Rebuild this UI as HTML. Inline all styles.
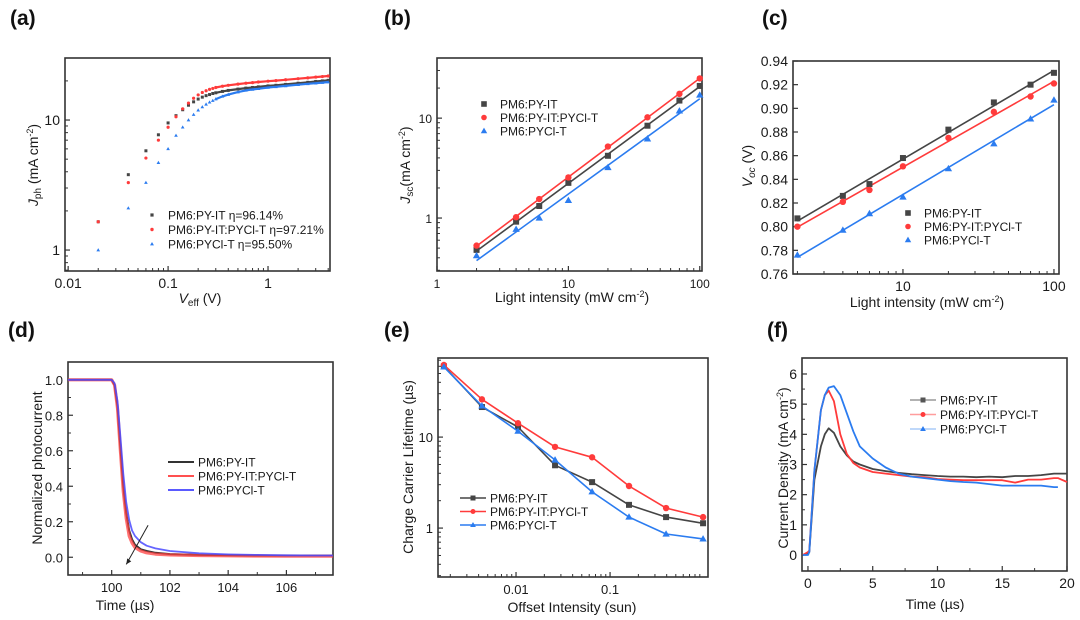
<!DOCTYPE html>
<html><head><meta charset="utf-8"><style>
html,body{margin:0;padding:0;background:#fff;width:1080px;height:620px;overflow:hidden}
svg{display:block;font-family:"Liberation Sans",sans-serif}
</style></head><body>
<svg id="fig" width="1080" height="620" viewBox="0 0 1080 620" xmlns="http://www.w3.org/2000/svg"></svg>
<script>
// ---------- DATA ----------
// (a)
const aV=[0.02,0.04,0.06,0.08,0.10,0.12,0.14,0.16,0.18,0.20,0.22,0.24,0.26,0.28,0.30,0.35,0.40,0.5,0.6,0.7,0.8,1.0,1.2,1.5,2,2.5,3,3.5,4];
const aBlack=[1.65,3.8,5.8,7.7,9.5,10.8,12.0,13.0,13.8,14.5,15.0,15.4,15.7,16.0,16.2,16.6,16.9,17.3,17.6,17.8,18.0,18.3,18.5,18.8,19.2,19.5,19.8,20.0,20.2];
const aRed=[1.65,3.3,5.1,7.0,8.8,10.6,12.2,13.5,14.7,15.6,16.3,16.8,17.2,17.5,17.8,18.2,18.5,18.9,19.2,19.4,19.6,19.9,20.1,20.4,20.8,21.1,21.4,21.6,21.8];
const aBlue=[1.0,2.1,3.3,4.7,6.0,7.6,8.8,10.0,11.0,11.9,12.6,13.2,13.7,14.1,14.5,15.2,15.7,16.4,16.9,17.2,17.4,17.8,18.0,18.3,18.7,19.0,19.2,19.4,19.6];
// (b)
const bI=[2,4,6,10,20,40,70,100];
const bBlack=[0.48,0.92,1.32,2.25,4.2,8.4,15,21];
const bRed=[0.53,1.02,1.55,2.55,5.2,10.2,17.5,25];
const bBlue=[0.42,0.77,1.0,1.5,3.2,6.2,11.8,17];
// (c)
const cI=[2,4,6,10,20,40,70,100];
const cBlack=[0.807,0.826,0.836,0.858,0.882,0.905,0.920,0.930];
const cRed=[0.800,0.821,0.831,0.851,0.875,0.897,0.910,0.921];
const cBlue=[0.776,0.797,0.811,0.825,0.849,0.870,0.891,0.907];
// (d)
const dT=[98.5,99,99.5,100,100.1,100.2,100.3,100.4,100.5,100.6,100.7,100.8,101,101.2,101.5,102,103,104,105,106,107,107.6];
const dBlack=[1,1,1,1,0.97,0.85,0.62,0.40,0.25,0.15,0.10,0.07,0.045,0.035,0.025,0.018,0.013,0.011,0.01,0.01,0.01,0.01];
const dRed=[1,1,1,1,0.97,0.84,0.60,0.37,0.22,0.12,0.08,0.055,0.035,0.025,0.018,0.013,0.01,0.008,0.007,0.006,0.006,0.006];
const dBlue=[1,1,1,1,0.98,0.88,0.68,0.47,0.31,0.21,0.15,0.12,0.085,0.065,0.05,0.035,0.022,0.016,0.013,0.011,0.01,0.01];
// (e)
const eX=[0.00171,0.00434,0.0105,0.026,0.0644,0.159,0.394,0.975];
const eBlack=[60,21.4,12.9,4.9,3.2,1.8,1.32,1.13];
const eRed=[62,26,14.2,7.8,6.0,2.9,1.66,1.32];
const eBlue=[59,22,11.6,5.6,2.5,1.32,0.86,0.76];
// (f)
const fT=[-0.4,0,0.1,0.5,1,1.3,1.6,2,2.5,3,3.5,4,5,6,7,8,9,10,11,12,13,14,15,16,17,18,19,19.3,20];
const fBlack=[0,0.05,0.1,2.5,3.6,4.0,4.2,4.05,3.6,3.3,3.1,3.0,2.85,2.78,2.72,2.68,2.65,2.62,2.6,2.6,2.58,2.6,2.58,2.62,2.62,2.65,2.7,2.7,2.7];
const fRed=[0,0.1,0.15,2.8,4.8,5.3,5.45,5.1,4.0,3.35,3.05,2.9,2.75,2.7,2.65,2.6,2.58,2.52,2.5,2.48,2.48,2.48,2.48,2.4,2.5,2.5,2.55,2.55,2.42];
const fBlue=[0,0,0.1,2.8,4.8,5.3,5.55,5.6,5.3,4.7,4.1,3.6,3.2,2.9,2.7,2.6,2.55,2.5,2.45,2.42,2.4,2.35,2.3,2.3,2.3,2.3,2.25,2.25,null];

const NS='http://www.w3.org/2000/svg';
const svg=document.getElementById('fig');
const BK='#454545',RD='#ff3b3b',BL='#2b7cf0';
function el(tag,attrs,parent){const e=document.createElementNS(NS,tag);for(const k in attrs)e.setAttribute(k,attrs[k]);(parent||svg).appendChild(e);return e;}
function txt(x,y,s,opts,parent){const t=el('text',Object.assign({x:x,y:y,'font-size':13,fill:'#1a1a1a'},opts||{}),parent);t.innerHTML=s;return t;}
function scale(type,d0,d1,p0,p1){
  if(type==='log'){const l0=Math.log10(d0),l1=Math.log10(d1);return v=>p0+(Math.log10(v)-l0)/(l1-l0)*(p1-p0);}
  return v=>p0+(v-d0)/(d1-d0)*(p1-p0);
}
function panel(cfg){
  const g=el('g',{});
  
  
  const [L,T,R,B]=cfg.frame;
  const sx=scale(cfg.xt,cfg.xd[0],cfg.xd[1],L,R);
  const sy=scale(cfg.yt,cfg.yd[0],cfg.yd[1],B,T);
  const ax=el('g',{},g);
  
  
  (cfg.xMinor||[]).forEach(v=>{const x=sx(v);el('line',{x1:x,x2:x,y1:B,y2:B-3,stroke:'#333','stroke-width':1},ax);});
  (cfg.yMinor||[]).forEach(v=>{const y=sy(v);el('line',{x1:L,x2:L+3,y1:y,y2:y,stroke:'#333','stroke-width':1},ax);});
  cfg.xTicks.forEach((v,i)=>{const x=sx(v);el('line',{x1:x,x2:x,y1:B,y2:B-5,stroke:'#333','stroke-width':1.2},ax);
    const t=txt(x,B+17,cfg.xLabels[i],{'text-anchor':'middle','font-size':cfg.fs||14},ax);
    });
  cfg.yTicks.forEach((v,i)=>{const y=sy(v);el('line',{x1:L,x2:L+5,y1:y,y2:y,stroke:'#333','stroke-width':1.2},ax);
    const t=txt(L-5,y+5,cfg.yLabels[i],{'text-anchor':'end','font-size':cfg.fs||14},ax);
    });
  const fr=el('rect',{x:L,y:T,width:R-L,height:B-T,fill:'none',stroke:'#333','stroke-width':1.6},g);
  
  return {g,sx,sy,L,T,R,B};
}
function marker(p,shape,x,y,col,s){
  let m;
  if(shape==='sq')m=el('rect',{x:x-s,y:y-s,width:2*s,height:2*s,fill:col},p);
  else if(shape==='ci')m=el('circle',{cx:x,cy:y,r:s,fill:col},p);
  else m=el('polygon',{points:`${x},${y-s*1.2} ${x-s*1.15},${y+s*0.8} ${x+s*1.15},${y+s*0.8}`,fill:col},p);
  return m;
}
function scatter(P,xs,ys,shape,col,s,name){
  const g=el('g',{},P.g);
  
  xs.forEach((x,i)=>{if(ys[i]==null)return;const m=marker(g,shape,P.sx(x),P.sy(ys[i]),col,s);
    });
}
function line(P,xs,ys,col,w,name,op){
  const pts=[];xs.forEach((x,i)=>{if(ys[i]!=null)pts.push(P.sx(x).toFixed(1)+','+P.sy(ys[i]).toFixed(1));});
  const l=el('polyline',{points:pts.join(' '),fill:'none',stroke:col,'stroke-width':w,'stroke-linejoin':'round','stroke-opacity':op||1},P.g);
  return l;
}
function fitLine(P,xs,ys,col,logY,name){
  const X=xs.map(Math.log10),Y=ys.map(v=>logY?Math.log10(v):v);
  const n=X.length,mx=X.reduce((a,b)=>a+b)/n,my=Y.reduce((a,b)=>a+b)/n;
  let num=0,den=0;X.forEach((x,i)=>{num+=(x-mx)*(Y[i]-my);den+=(x-mx)*(x-mx);});
  const k=num/den,b=my-k*mx;const f=x=>{const v=k*Math.log10(x)+b;return logY?Math.pow(10,v):v;};
  const x0=xs[0],x1=xs[n-1];
  const l=el('line',{x1:P.sx(x0),y1:P.sy(f(x0)),x2:P.sx(x1),y2:P.sy(f(x1)),stroke:col,'stroke-width':1.6},P.g);
  
}
function logMinor(lo,hi){const r=[];for(let e=lo;e<hi;e++)for(let m=2;m<=9;m++)r.push(m*Math.pow(10,e));return r;}
function legend(P,items,x,y0,dy,mode,fs,name){
  const g=el('g',{},P.g);
  
  items.forEach((it,i)=>{const y=y0+i*dy;
    const e=el('g',{},g);
    if(mode==='marker'){marker(e,it.s,x,y,it.c,it.sz||2.8);txt(x+16,y+4.5,it.t,{'font-size':fs},e);}
    else{el('line',{x1:x,x2:x+26,y1:y,y2:y,stroke:it.c,'stroke-width':it.w||2,'stroke-opacity':it.o||1},e);
      if(it.s)marker(e,it.s,x+13,y,it.c,2.5);txt(x+30,y+4.5,it.t,{'font-size':fs},e);}
  });
}
function plabel(x,y,s){const t=txt(x,y,s,{'font-size':21,'font-weight':'bold',fill:'#111'});}
function title(x,y,s,rot,name){const t=txt(x,y,s,{'font-size':14,'text-anchor':'middle',fill:'#1a1a1a'});if(rot)t.setAttribute('transform',`rotate(-90 ${x} ${y})`);}

// ---------- (a) ----------
plabel(10,25,'(a)');
const A=panel({name:'panel-a',frame:[65,58,330,271],xt:'log',xd:[0.0093,4.17],yt:'log',yd:[0.69,30],
  xTicks:[0.01,0.1,1],xLabels:['0.01','0.1','1'],yTicks:[1,10],yLabels:['1','10'],
  xMinor:logMinor(-2,1).filter(v=>v<4.17),yMinor:[0.7,0.8,0.9,2,3,4,5,6,7,8,9,20,30]});
scatter(A,aV,aBlack,'sq',BK,1.5,'series-py-it');
scatter(A,aV,aRed,'ci',RD,1.6,'series-blend');
scatter(A,aV,aBlue,'tri',BL,1.6,'series-pycl-t');
line(A,aV.slice(14),aBlack.slice(14),BK,2.2,'line-py-it');
line(A,aV.slice(14),aRed.slice(14),RD,2.2,'line-blend');
line(A,aV.slice(14),aBlue.slice(14),BL,2.2,'line-pycl-t');
legend(A,[{s:'sq',c:BK,t:'PM6:PY-IT η=96.14%',sz:1.6},{s:'ci',c:RD,t:'PM6:PY-IT:PYCl-T η=97.21%',sz:1.7},{s:'tri',c:BL,t:'PM6:PYCl-T η=95.50%',sz:1.7}],152,215,14.5,'marker',12,'legend-a');
title(200,303,'<tspan font-style="italic">V</tspan><tspan font-size="10" dy="3">eff</tspan><tspan dy="-3"> (V)</tspan>',false,'x-axis-title-a');
title(38,165,'<tspan font-style="italic">J</tspan><tspan font-size="10" dy="3">ph</tspan><tspan dy="-3"> (mA cm</tspan><tspan font-size="9" dy="-5">-2</tspan><tspan dy="5">)</tspan>',true,'y-axis-title-a');

// ---------- (b) ----------
plabel(384,25,'(b)');
const Bp=panel({name:'panel-b',frame:[437,58,702,271],xt:'log',xd:[1,104],yt:'log',yd:[0.295,40],fs:12,
  xTicks:[1,10,100],xLabels:['1','10','100'],yTicks:[1,10],yLabels:['1','10'],
  xMinor:logMinor(0,2),yMinor:[0.3,0.4,0.5,0.6,0.7,0.8,0.9,2,3,4,5,6,7,8,9,20,30,40]});
fitLine(Bp,bI,bBlack,BK,true,'fit-py-it');fitLine(Bp,bI,bRed,RD,true,'fit-blend');fitLine(Bp,bI,bBlue,BL,true,'fit-pycl-t');
scatter(Bp,bI,bBlack,'sq',BK,3,'series-py-it');scatter(Bp,bI,bRed,'ci',RD,3.2,'series-blend');scatter(Bp,bI,bBlue,'tri',BL,3.2,'series-pycl-t');
legend(Bp,[{s:'sq',c:BK,t:'PM6:PY-IT'},{s:'ci',c:RD,t:'PM6:PY-IT:PYCl-T'},{s:'tri',c:BL,t:'PM6:PYCl-T'}],484,104,13.5,'marker',12,'legend-b');
title(572,302,'Light intensity (mW cm<tspan font-size="9" dy="-5">-2</tspan><tspan dy="5">)</tspan>',false,'x-axis-title-b');
title(410,165,'<tspan font-style="italic">J</tspan><tspan font-size="10" dy="3">sc</tspan><tspan dy="-3">(mA cm</tspan><tspan font-size="9" dy="-5">-2</tspan><tspan dy="5">)</tspan>',true,'y-axis-title-b');

// ---------- (c) ----------
plabel(762,25,'(c)');
const C=panel({name:'panel-c',frame:[793,61,1059,274],xt:'log',xd:[1.87,108],yt:'lin',yd:[0.76,0.94],fs:14,
  xTicks:[10,100],xLabels:['10','100'],yTicks:[0.76,0.78,0.80,0.82,0.84,0.86,0.88,0.90,0.92,0.94],
  yLabels:['0.76','0.78','0.80','0.82','0.84','0.86','0.88','0.90','0.92','0.94'],
  xMinor:[2,3,4,5,6,7,8,9,20,30,40,50,60,70,80,90]});
fitLine(C,cI,cBlack,BK,false,'fit-py-it');fitLine(C,cI,cRed,RD,false,'fit-blend');fitLine(C,cI,cBlue,BL,false,'fit-pycl-t');
scatter(C,cI,cBlack,'sq',BK,3,'series-py-it');scatter(C,cI,cRed,'ci',RD,3.2,'series-blend');scatter(C,cI,cBlue,'tri',BL,3.2,'series-pycl-t');
legend(C,[{s:'sq',c:BK,t:'PM6:PY-IT'},{s:'ci',c:RD,t:'PM6:PY-IT:PYCl-T'},{s:'tri',c:BL,t:'PM6:PYCl-T'}],908,213,13.5,'marker',12,'legend-c');
title(927,307,'Light intensity (mW cm<tspan font-size="9" dy="-5">-2</tspan><tspan dy="5">)</tspan>',false,'x-axis-title-c');
title(752,166,'<tspan font-style="italic">V</tspan><tspan font-size="10" font-style="italic" dy="3">oc</tspan><tspan dy="-3"> (V)</tspan>',true,'y-axis-title-c');

// ---------- (d) ----------
plabel(8,337,'(d)');
const D=panel({name:'panel-d',frame:[68,362,333,575],xt:'lin',xd:[98.5,107.6],yt:'lin',yd:[-0.1,1.1],fs:13,
  xTicks:[100,102,104,106],xLabels:['100','102','104','106'],yTicks:[0,0.2,0.4,0.6,0.8,1.0],
  yLabels:['0.0','0.2','0.4','0.6','0.8','1.0'],xMinor:[99,101,103,105,107],yMinor:[0.1,0.3,0.5,0.7,0.9]});
line(D,dT,dBlack,'#333',2,'line-py-it');
line(D,dT,dRed,'#ff4040',3.2,'line-blend',0.75);
line(D,dT,dBlue,'#4a4aff',1.8,'line-pycl-t',0.85);
const arr=el('g',{},D.g);
el('line',{x1:D.sx(101.25),y1:D.sy(0.18),x2:D.sx(100.5),y2:D.sy(-0.04),stroke:'#222','stroke-width':1},arr);
{const x=D.sx(100.5),y=D.sy(-0.04);el('polygon',{points:`${x},${y} ${x+1},${y-6} ${x+5},${y-3}`,fill:'#222'},arr);}
legend(D,[{c:'#333',t:'PM6:PY-IT'},{c:'#ff5050',t:'PM6:PY-IT:PYCl-T'},{c:'#5a5aff',t:'PM6:PYCl-T'}],168,462,14,'line',12,'legend-d');
title(125,610,'Time (µs)',false,'x-axis-title-d');
title(42,468,'Normalized photocurrent',true,'y-axis-title-d');

// ---------- (e) ----------
plabel(384,337,'(e)');
const E=panel({name:'panel-e',frame:[438,358,708,577],xt:'log',xd:[0.00148,1.1],yt:'log',yd:[0.29,74],fs:13,
  xTicks:[0.01,0.1],xLabels:['0.01','0.1'],yTicks:[1,10],yLabels:['1','10'],
  xMinor:[0.002,0.003,0.004,0.005,0.006,0.007,0.008,0.009,0.02,0.03,0.04,0.05,0.06,0.07,0.08,0.09,0.2,0.3,0.4,0.5,0.6,0.7,0.8,0.9],
  yMinor:[0.3,0.4,0.5,0.6,0.7,0.8,0.9,2,3,4,5,6,7,8,9,20,30,40,50,60,70]});
line(E,eX,eBlack,BK,1.6,'line-py-it');scatter(E,eX,eBlack,'sq',BK,3,'series-py-it');
line(E,eX,eRed,RD,1.6,'line-blend');scatter(E,eX,eRed,'ci',RD,3.2,'series-blend');
line(E,eX,eBlue,BL,1.6,'line-pycl-t');scatter(E,eX,eBlue,'tri',BL,3.2,'series-pycl-t');
legend(E,[{s:'sq',c:BK,t:'PM6:PY-IT',w:1.6},{s:'ci',c:RD,t:'PM6:PY-IT:PYCl-T',w:1.6},{s:'tri',c:BL,t:'PM6:PYCl-T',w:1.6}],460,498,13.5,'line',12,'legend-e');
title(572,612,'Offset Intensity (sun)',false,'x-axis-title-e');
title(413,467,'Charge Carrier Lifetime (µs)',true,'y-axis-title-e');

// ---------- (f) ----------
plabel(767,337,'(f)');
const F=panel({name:'panel-f',frame:[802,358,1067,571],xt:'lin',xd:[-0.46,20],yt:'lin',yd:[-0.53,6.53],fs:14,
  xTicks:[0,5,10,15,20],xLabels:['0','5','10','15','20'],yTicks:[0,1,2,3,4,5,6],yLabels:['0','1','2','3','4','5','6'],
  xMinor:[2.5,7.5,12.5,17.5],yMinor:[0.5,1.5,2.5,3.5,4.5,5.5]});
line(F,fT,fBlack,BK,1.8,'line-py-it');line(F,fT,fRed,RD,1.8,'line-blend');line(F,fT,fBlue,BL,1.8,'line-pycl-t');
legend(F,[{s:'sq',c:'#555',t:'PM6:PY-IT',w:1.4,o:0.6},{s:'ci',c:RD,t:'PM6:PY-IT:PYCl-T',w:1.4,o:0.5},{s:'tri',c:BL,t:'PM6:PYCl-T',w:1.4,o:0.4}],910,400,14.5,'line',12,'legend-f');
title(935,609,'Time (µs)',false,'x-axis-title-f');
title(788,468,'Current Density (mA cm<tspan font-size="9" dy="-5">-2</tspan><tspan dy="5">)</tspan>',true,'y-axis-title-f');
</script>
</body></html>
